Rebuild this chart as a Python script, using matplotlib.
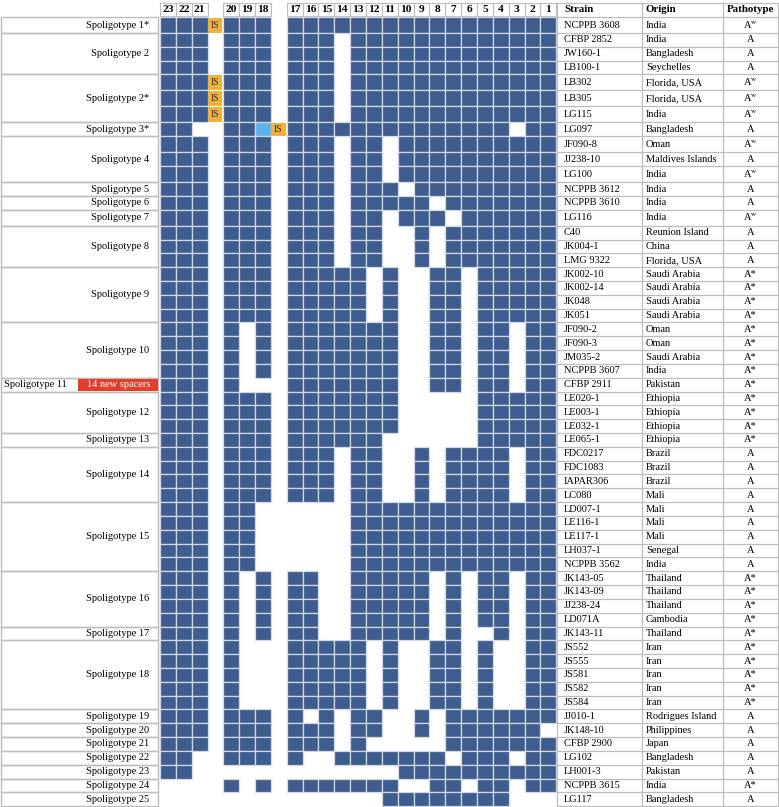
import matplotlib
matplotlib.use("Agg")
import matplotlib.pyplot as plt
from matplotlib.patches import Rectangle

plt.rcParams['font.family'] = ['Liberation Serif', 'DejaVu Serif']
plt.rcParams['mathtext.fontset'] = 'stix'

# spacer order as shown, left to right
spacers = [23, 22, 21, 20, 19, 18, 17, 16, 15, 14, 13, 12, 11, 10, 9, 8, 7, 6, 5, 4, 3, 2, 1]

groups = [("Spoligotype 1*", 1), ("Spoligotype 2", 3), ("Spoligotype 2*", 3), ("Spoligotype 3*", 1),
          ("Spoligotype 4", 3), ("Spoligotype 5", 1), ("Spoligotype 6", 1), ("Spoligotype 7", 1),
          ("Spoligotype 8", 3), ("Spoligotype 9", 4), ("Spoligotype 10", 4), ("Spoligotype 11", 1),
          ("Spoligotype 12", 3), ("Spoligotype 13", 1), ("Spoligotype 14", 4), ("Spoligotype 15", 5),
          ("Spoligotype 16", 4), ("Spoligotype 17", 1), ("Spoligotype 18", 5), ("Spoligotype 19", 1),
          ("Spoligotype 20", 1), ("Spoligotype 21", 1), ("Spoligotype 22", 1), ("Spoligotype 23", 1),
          ("Spoligotype 24", 1), ("Spoligotype 25", 1)]

strains = ["NCPPB 3608", "CFBP 2852", "JW160-1", "LB100-1", "LB302", "LB305", "LG115", "LG097",
           "JF090-8", "JJ238-10", "LG100", "NCPPB 3612", "NCPPB 3610", "LG116", "C40", "JK004-1",
           "LMG 9322", "JK002-10", "JK002-14", "JK048", "JK051", "JF090-2", "JF090-3", "JM035-2",
           "NCPPB 3607", "CFBP 2911", "LE020-1", "LE003-1", "LE032-1", "LE065-1", "FDC0217",
           "FDC1083", "IAPAR306", "LC080", "LD007-1", "LE116-1", "LE117-1", "LH037-1", "NCPPB 3562",
           "JK143-05", "JK143-09", "JJ238-24", "LD071A", "JK143-11", "JS552", "JS555", "JS581",
           "JS582", "JS584", "JJ010-1", "JK148-10", "CFBP 2900", "LG102", "LH001-3", "NCPPB 3615",
           "LG117"]

origins = ["India", "India", "Bangladesh", "Seychelles", "Florida, USA", "Florida, USA", "India",
           "Bangladesh", "Oman", "Maldives Islands", "India", "India", "India", "India",
           "Reunion Island", "China", "Florida, USA", "Saudi Arabia", "Saudi Arabia", "Saudi Arabia",
           "Saudi Arabia", "Oman", "Oman", "Saudi Arabia", "India", "Pakistan", "Ethiopia",
           "Ethiopia", "Ethiopia", "Ethiopia", "Brazil", "Brazil", "Brazil", "Mali", "Mali", "Mali",
           "Mali", "Senegal", "India", "Thailand", "Thailand", "Thailand", "Cambodia", "Thailand",
           "Iran", "Iran", "Iran", "Iran", "Iran", "Rodrigues Island", "Philippines", "Japan",
           "Bangladesh", "Pakistan", "India", "Bangladesh"]

pathotypes = ["Aw", "A", "A", "A", "Aw", "Aw", "Aw", "A", "Aw", "A", "Aw", "A", "A", "Aw", "A", "A",
              "A", "A*", "A*", "A*", "A*", "A*", "A*", "A*", "A*", "A*", "A*", "A*", "A*", "A*",
              "A", "A", "A", "A", "A", "A", "A", "A", "A", "A*", "A*", "A*", "A*", "A*", "A*", "A*",
              "A*", "A*", "A*", "A", "A", "A", "A", "A", "A*", "A"]

# 1 = present, 0 = absent, L = light blue cell; spacers 23..1
profiles = [
    "111" "111" "11111111111111111",
    "111" "111" "11101111111111111",
    "111" "111" "11101111111111111",
    "111" "111" "11101111111111111",
    "111" "111" "11101111111111111",
    "111" "111" "11101111111111111",
    "111" "111" "11101111111111111",
    "110" "11L" "11111111111111011",
    "111" "111" "11101101111111111",
    "111" "111" "11101101111111111",
    "111" "111" "11101101111111111",
    "111" "111" "11101110111111111",
    "111" "111" "11101111101111111",
    "111" "111" "11101101110111111",
    "111" "111" "11101100101111111",
    "111" "111" "11101100101111111",
    "111" "111" "11101100101111111",
    "111" "111" "11111010011011111",
    "111" "111" "11111010011011111",
    "111" "111" "11111010011011111",
    "111" "111" "11111010011011111",
    "111" "101" "11111110011011011",
    "111" "101" "11111110011011011",
    "111" "101" "11111110011011011",
    "111" "101" "11111110011011011",
    "111" "100" "11111110011011011",
    "111" "111" "11111110000011111",
    "111" "111" "11111110000011111",
    "111" "111" "11111110000011111",
    "111" "111" "11111100000011111",
    "111" "111" "11101100101111011",
    "111" "111" "11101100101111011",
    "111" "111" "11101100101111011",
    "111" "111" "11101100101111011",
    "111" "110" "00001111111111111",
    "111" "110" "00001111111111111",
    "111" "110" "00001111111111111",
    "111" "110" "00001111111111111",
    "111" "110" "00001111111111111",
    "111" "101" "11001111101011011",
    "111" "101" "11001111101011011",
    "111" "101" "11001111101011011",
    "111" "101" "11001111101011011",
    "111" "101" "11001111101001011",
    "111" "100" "11111010011010011",
    "111" "100" "11111010011010011",
    "111" "100" "11111010011010011",
    "111" "100" "11111010011010011",
    "111" "100" "11111010011010011",
    "111" "111" "10101100101111111",
    "111" "111" "11101100101111110",
    "111" "111" "11101000001111111",
    "110" "111" "10011111110111011",
    "110" "000" "00000001111111111",
    "000" "101" "11111110011011011",
    "000" "000" "00000011111111000",
]

# IS insertion shown after spacer 21 or 18
is_after = {"NCPPB 3608": 21, "LB302": 21, "LB305": 21, "LG115": 21, "LG097": 18}
new_spacers = {"CFBP 2911": "14 new spacers"}

BLUE = "#3f5c8e"
LIGHT = "#5ab3ea"
ORANGE = "#f1b13f"
RED = "#e23f2b"
GRID = "#bdbdbd"

X0, CW = 160.0, 15.85
Y0, HEAD_TOP = 17.0, 3.0
LABEL_R = 158.5
STRAIN_X, ORIGIN_X, PATH_X, RIGHT_X = 557.0, 642.0, 723.0, 778.5
FS = 7.5
HFS = 8.2


def slot(sp):
    i = spacers.index(sp)
    return i + (i >= 3) + (i >= 6)


heights = [16.0 if "w" in p else 13.82 for p in pathotypes]
tops = [Y0]
for h in heights:
    tops.append(tops[-1] + h)

fig = plt.figure(figsize=(7.79, 8.07), dpi=100)
ax = fig.add_axes([0, 0, 1, 1])
ax.set_xlim(0, 779)
ax.set_ylim(807, 0)
ax.axis("off")

# header of spacer numbers
for sp in spacers:
    x = X0 + slot(sp) * CW
    ax.add_patch(Rectangle((x, HEAD_TOP), CW, Y0 - HEAD_TOP - 1, fill=False, ec=GRID, lw=0.8))
    ax.text(x + CW / 2, (HEAD_TOP + Y0) / 2, str(sp), ha="center", va="center",
            fontsize=HFS, fontweight="bold")

# cells
for r, prof in enumerate(profiles):
    y, h = tops[r], heights[r]
    for sp, c in zip(spacers, prof):
        if c == "0":
            continue
        x = X0 + slot(sp) * CW
        ax.add_patch(Rectangle((x, y), CW, h, fc=BLUE if c == "1" else LIGHT,
                               ec="#d3dbe7", lw=0.9))
    if strains[r] in is_after:
        x = X0 + (slot(is_after[strains[r]]) + 1) * CW
        ax.add_patch(Rectangle((x, y + 0.5), CW - 1, h - 1, fc=ORANGE, ec="none"))
        ax.text(x + CW / 2 - 0.5, y + h / 2, "IS", ha="center", va="center",
                fontsize=FS - 0.4, color="#333333")

# spoligotype label boxes
r = 0
for name, n in groups:
    y0, y1 = tops[r], tops[r + n]
    ax.add_patch(Rectangle((0.5, y0), LABEL_R - 0.5, y1 - y0, fill=False, ec=GRID, lw=1.0))
    if strains[r] in new_spacers:
        ax.text(4, (y0 + y1) / 2, name, ha="left", va="center", fontsize=FS)
        ax.add_patch(Rectangle((78, y0 + 1), LABEL_R - 78, y1 - y0 - 2, fc=RED, ec="none"))
        ax.text((78 + LABEL_R) / 2, (y0 + y1) / 2, new_spacers[strains[r]], ha="center",
                va="center", fontsize=FS, color="white")
    else:
        ax.text(149, (y0 + y1) / 2, name, ha="right", va="center", fontsize=FS)
    r += n

# right table
bottom = tops[-1]
for xl in [STRAIN_X, ORIGIN_X, PATH_X, RIGHT_X]:
    ax.plot([xl, xl], [HEAD_TOP, bottom], color=GRID, lw=0.9)
for yl in [HEAD_TOP] + tops:
    ax.plot([STRAIN_X, RIGHT_X], [yl, yl], color=GRID, lw=0.9)
hy = (HEAD_TOP + Y0) / 2
ax.text(STRAIN_X + 7, hy, "Strain", ha="left", va="center", fontsize=FS + 0.3, fontweight="bold")
ax.text(ORIGIN_X + 4, hy, "Origin", ha="left", va="center", fontsize=FS + 0.3, fontweight="bold")
ax.text((PATH_X + RIGHT_X) / 2, hy, "Pathotype", ha="center", va="center", fontsize=FS + 0.3,
        fontweight="bold")
for r in range(len(strains)):
    yc = (tops[r] + tops[r + 1]) / 2
    ax.text(STRAIN_X + 7, yc, strains[r], ha="left", va="center", fontsize=FS)
    ax.text(ORIGIN_X + 4, yc, origins[r], ha="left", va="center", fontsize=FS)
    p = pathotypes[r]
    label = "A$^{\\mathrm{w}}$" if p == "Aw" else p
    ax.text((PATH_X + RIGHT_X) / 2, yc, label, ha="center", va="center", fontsize=FS)

fig.savefig("out.png", dpi=100)
